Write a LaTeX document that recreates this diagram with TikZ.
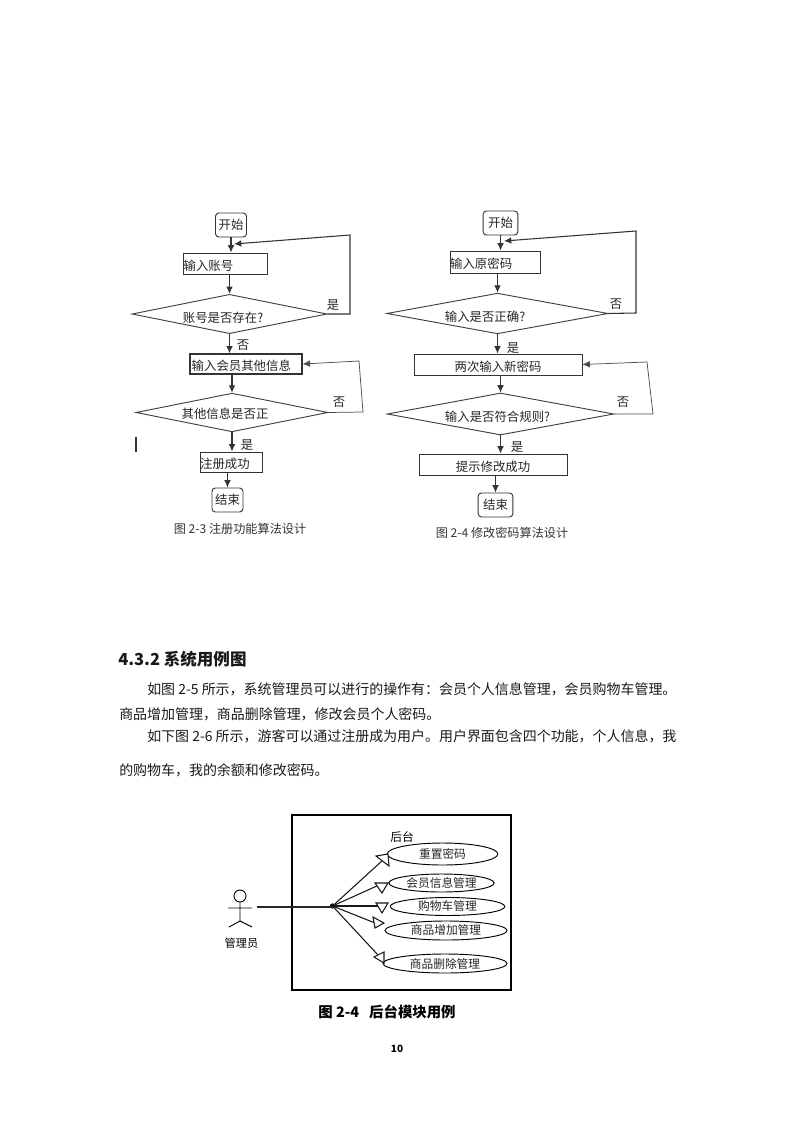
\documentclass[tikz,border=0pt]{standalone}
\usepackage{fontspec}
\setmainfont{Noto Sans CJK SC}
\usetikzlibrary{arrows.meta,shapes.geometric}
\tikzset{
  x=0.75pt,y=-0.75pt,
  flowtext/.style={font=\fontsize{9.3pt}{11pt}\selectfont,text=black!85},
  box/.style={draw=black!80,line width=0.7pt,inner sep=0pt,flowtext},
  rbox/.style={box,rounded corners=2.5pt},
  dia/.style={draw=black!75,line width=0.7pt,minimum width=0,inner sep=0pt},
  flow/.style={draw=black!80,line width=0.8pt,-{Latex[length=5.5pt,width=5pt]}},
  thinflow/.style={draw=black!70,line width=0.55pt,-{Latex[length=5.5pt,width=5pt]}},
  lab/.style={flowtext,inner sep=0pt},
  capt/.style={font=\fontsize{9.1pt}{11pt}\selectfont,text=black!80},
  para/.style={font=\fontsize{10.47pt}{12pt}\selectfont,anchor=west,inner sep=0pt,text=black!90},
  uc/.style={draw=black,ellipse,line width=0.7pt,inner sep=0pt,font=\fontsize{8.8pt}{10pt}\selectfont,text=black!85},
  assoc/.style={draw=black!90,line width=0.8pt},
  tri/.style={draw=black!90,line width=0.8pt,fill=white,line join=miter}
}
\newcommand{\dn}[1]{\smash{\raisebox{-5.2pt}{#1}}}
\begin{document}
\begin{tikzpicture}
\useasboundingbox (0,0) rectangle (794,1123);
% left flowchart
\node[rbox,minimum width=23.25pt,minimum height=18pt] (a1) at (231,225) {开始};
\node[box,minimum width=63pt,minimum height=15.75pt,text width=62pt,align=left] (a2) at (225,263.5) {\dn{输入账号}};
\node[dia,diamond,minimum width=146pt,minimum height=29.5pt,aspect=4.9] (a3) at (229.5,314) {};
\node[lab] at (223,318) {账号是否存在?};
\node[box,line width=1pt,minimum width=84pt,minimum height=15pt] (a4) at (246,364) {\hspace{-7pt}\dn{输入会员其他信息}};
\node[dia,diamond,minimum width=144pt,minimum height=29pt,aspect=4.9] (a5) at (232,412.5) {};
\node[lab] at (225,414) {其他信息是否正};
\node[box,minimum width=47pt,minimum height=15pt,text width=47pt,align=left] (a6) at (231.5,462) {\dn{注册成功}};
\node[rbox,minimum width=23.25pt,minimum height=18pt] (a7) at (227.5,500) {结束};
\node[capt] (capa) at (240,529) {图 2-3 注册功能算法设计};
\draw[flow] (a1.south) -- (a2.north -| a1.south);
\draw[flow] (a2.south -| a3.north) -- (a3.north);
\draw[flow] (a3.south) -- (a4.north -| a3.south);
\draw[flow] (a4.south -| a5.north) -- (a5.north);
\draw[flow] (a5.south) -- (a6.north -| a5.south);
\draw[flow] (a6.south -| a7.north) -- (a7.north);
\coordinate (l1) at (350,314);
\coordinate (l2) at (350,235);
\coordinate (l3) at (234,244);
\draw[flow] (a3.east) -- (l1) -- (l2) -- (l3);
\coordinate (l4) at (363,412);
\coordinate (l5) at (359,361);
\draw[thinflow] (a5.east) -- (l4) -- (l5) -- (a4.east);
\node[lab] at (333,305) {是};
\node[lab] at (243,345) {否};
\node[lab] at (339,402) {否};
\node[lab] at (247,445) {是};
\coordinate (bar1) at (136,437);
\coordinate (bar2) at (136,452);
\draw[line width=1pt,black!80] (bar1) -- (bar2);
% right flowchart
\node[rbox,minimum width=26pt,minimum height=18pt] (b1) at (500.5,223) {开始};
\node[box,minimum width=68pt,minimum height=16.5pt,text width=68pt,align=left] (b2) at (495.5,262) {\dn{输入原密码}};
\node[dia,diamond,minimum width=166pt,minimum height=30.5pt,aspect=5.4] (b3) at (497.5,313.5) {};
\node[lab] at (485,317) {输入是否正确?};
\node[box,minimum width=126pt,minimum height=15.75pt] (b4) at (498,364.5) {\dn{两次输入新密码}};
\node[dia,diamond,minimum width=170pt,minimum height=31.5pt,aspect=5.4] (b5) at (500.5,414) {};
\node[lab] at (497.5,417) {输入是否符合规则?};
\node[box,minimum width=111pt,minimum height=15.75pt] (b6) at (493,464.5) {\dn{提示修改成功}};
\node[rbox,minimum width=26pt,minimum height=18pt] (b7) at (495.5,505) {结束};
\node[capt] (capb) at (502,533) {图 2-4 修改密码算法设计};
\draw[flow] (b1.south) -- (b2.north -| b1.south);
\draw[flow] (b2.south -| b3.north) -- (b3.north);
\draw[flow] (b3.south) -- (b4.north -| b3.south);
\draw[flow] (b4.south -| b5.north) -- (b5.north);
\draw[flow] (b5.south) -- (b6.north -| b5.south);
\draw[flow] (b6.south -| b7.north) -- (b7.north);
\coordinate (r1) at (636,313);
\coordinate (r2) at (636,231);
\coordinate (r3) at (504,241);
\draw[flow] (b3.east) -- (r1) -- (r2) -- (r3);
\coordinate (r4) at (653,414);
\coordinate (r5) at (647,362);
\draw[thinflow] (b5.east) -- (r4) -- (r5) -- (b4.east);
\node[lab] at (616,304) {否};
\node[lab] at (513,348) {是};
\node[lab] at (623,402) {否};
\node[lab] at (517,447) {是};
% body text
\node[para,font=\fontsize{12.4pt}{14pt}\selectfont\bfseries] (t0) at (118,659) {4.3.2 系统用例图};
\node[para] (t1) at (147,689) {如图 2-5 所示，系统管理员可以进行的操作有：会员个人信息管理，会员购物车管理。};
\node[para] (t2) at (119,714) {商品增加管理，商品删除管理，修改会员个人密码。};
\node[para] (t3) at (147,736) {如下图 2-6 所示，游客可以通过注册成为用户。用户界面包含四个功能，个人信息，我};
\node[para] (t4) at (119,770) {的购物车，我的余额和修改密码。};
% use case
\node[draw=black,line width=0.85pt,minimum width=164.25pt,minimum height=131.25pt,inner sep=0pt] (sys) at (401.5,902.5) {};
\node[font=\fontsize{8.8pt}{10pt}\selectfont,inner sep=0pt] (ht) at (402,837) {后台};
\node[uc,minimum width=83pt,minimum height=16.5pt] (u1) at (442.5,854) {重置密码};
\node[uc,minimum width=79pt,minimum height=13.5pt] (u2) at (441.5,883) {会员信息管理};
\node[uc,minimum width=86pt,minimum height=13.5pt] (u3) at (447.5,906.5) {购物车管理};
\node[uc,minimum width=91.5pt,minimum height=14.25pt] (u4) at (446,930.5) {商品增加管理};
\node[uc,minimum width=93pt,minimum height=14.25pt] (u5) at (445,963.5) {商品删除管理};
\node[draw=black,circle,line width=0.7pt,minimum size=9pt,inner sep=0pt] (head) at (240,896) {};
\coordinate (bodyb) at (240,921);
\coordinate (arml) at (228,908);
\coordinate (armr) at (252,908);
\coordinate (legl) at (229,927);
\coordinate (legr) at (252,927);
\draw[line width=0.7pt] (head.south) -- (bodyb) (arml) -- (armr) (legl) -- (bodyb) -- (legr);
\node[font=\fontsize{8.4pt}{10pt}\selectfont,inner sep=0pt] (act) at (241.5,943) {管理员};
\coordinate (start) at (257,907);
\coordinate (hubin) at (332.5,907);
\node[circle,fill=black,minimum size=4pt,inner sep=0pt] (hub) at (332.5,906) {};
\draw[line width=0.85pt,black!85] (start) -- (hubin);
\coordinate (e1) at (383,860);
\coordinate (e2) at (379,885);
\coordinate (e3) at (380,906);
\coordinate (e4) at (375,923);
\coordinate (e5) at (378,955);
\draw[assoc] (hub) -- (e1);
\draw[assoc] (hub) -- (e2);
\draw[assoc] (hub) -- (e3);
\draw[assoc] (hub) -- (e4);
\draw[assoc] (hub) -- (e5);
\draw[tri] (376,856) -- (388,854) -- (389,866) -- cycle;
\draw[tri] (375,883) -- (388,883) -- (382,893) -- cycle;
\draw[tri] (376,903) -- (388,903) -- (382,913) -- cycle;
\draw[tri] (373,917) -- (384,923) -- (375,928) -- cycle;
\draw[tri] (374,957) -- (384,952) -- (384,963) -- cycle;
\node[font=\fontsize{10.8pt}{12pt}\selectfont\bfseries] (cap3) at (387,1012) {图 2-4\hspace{0.7em}后台模块用例};
\node[font=\fontsize{7.5pt}{9pt}\selectfont\bfseries] (pg) at (397,1049) {10};
\end{tikzpicture}
\end{document}
